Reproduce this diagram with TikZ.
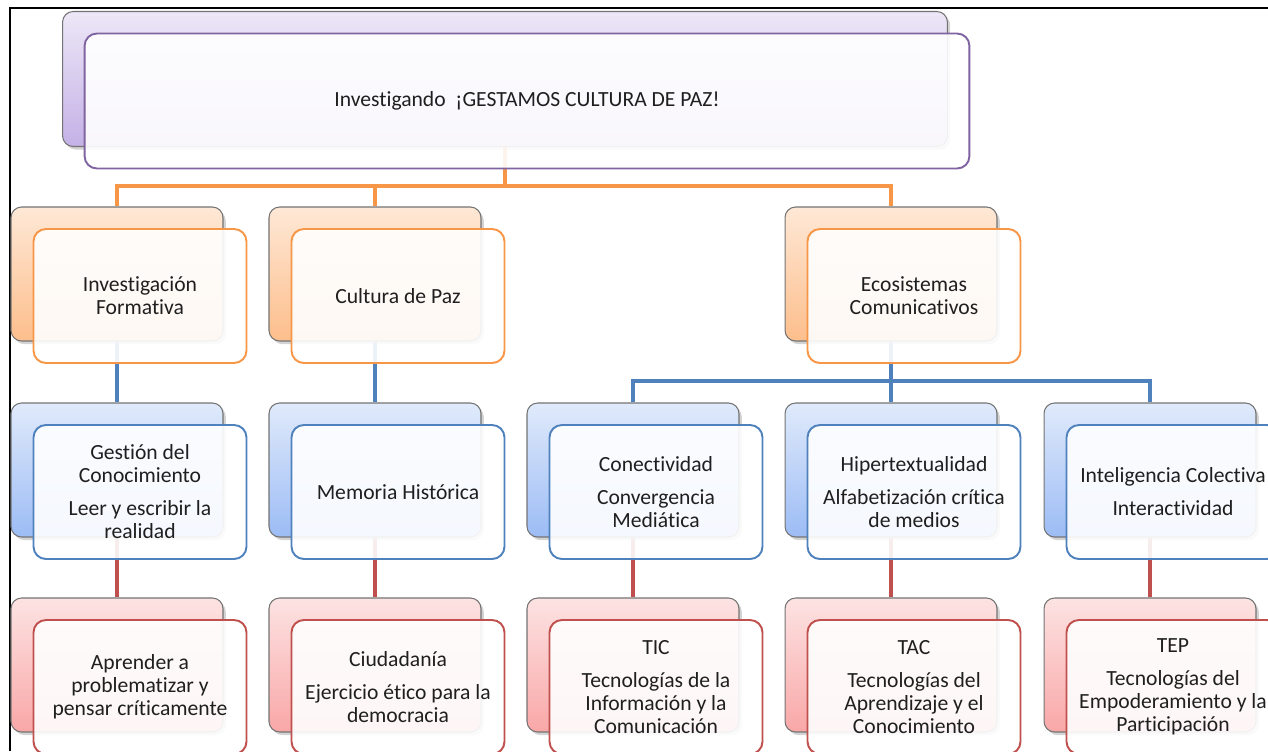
\documentclass[tikz,border=0pt]{standalone}
\usepackage{fontspec}
\setmainfont[Ligatures=NoCommon]{Carlito}
\usetikzlibrary{shadows,backgrounds}

\definecolor{moradoB}{HTML}{8064A2}
\definecolor{naranjaB}{HTML}{F79646}
\definecolor{azulB}{HTML}{4F81BD}
\definecolor{rojoB}{HTML}{C0504D}

\begin{document}
\begin{tikzpicture}[x=0.02cm, y=-0.02cm,
	fondo/.style={rounded corners=6pt, draw=black!55, line width=0.6pt, minimum width=4.24cm, minimum height=2.68cm,
		drop shadow={shadow xshift=1.6pt, shadow yshift=-1.8pt, opacity=0.35}},
	frente/.style={rounded corners=7pt, draw, line width=1.1pt, fill=white, fill opacity=0.9, text opacity=1,
		minimum width=4.26cm, minimum height=2.68cm, align=center, text=black!88,
		font=\fontsize{12.3}{13.1}\selectfont},
	morado/.style={top color={rgb,255:red,237;green,231;blue,247}, bottom color={rgb,255:red,196;green,177;blue,230}},
	naranja/.style={top color={rgb,255:red,254;green,232;blue,214}, bottom color={rgb,255:red,253;green,190;blue,140}},
	azul/.style={top color={rgb,255:red,224;green,234;blue,251}, bottom color={rgb,255:red,156;green,188;blue,245}},
	rojo/.style={top color={rgb,255:red,253;green,227;blue,227}, bottom color={rgb,255:red,249;green,167;blue,167}},
	linea/.style={line width=2.3pt}]

			\useasboundingbox (0,0) rectangle (1268,751);

			% marco
			\draw [line width=1.3pt] (10,751) -- (10,8) -- (1268,8);

			% raiz
			\node[fondo, morado, minimum width=17.7cm, minimum height=2.7cm] (raizB) at (505,79) {};
			\node[frente, draw=moradoB, minimum width=17.7cm, minimum height=2.7cm] (raiz) at (527,101) {Investigando~ ¡GESTAMOS CULTURA DE PAZ!};

			% primer nivel
			\node[fondo, naranja] (invB) at (117,274) {};
			\node[frente, draw=naranjaB] (inv) at (140,296) {Investigación\\Formativa};

			\node[fondo, naranja] (pazB) at (375,274) {};
			\node[frente, draw=naranjaB] (paz) at (398,296) {Cultura de Paz};

			\node[fondo, naranja] (ecoB) at (891,274) {};
			\node[frente, draw=naranjaB] (eco) at (914,296) {Ecosistemas\\Comunicativos};

			% segundo nivel
			\node[fondo, azul] (gesB) at (117,470) {};
			\node[frente, draw=azulB] (ges) at (140,492) {Gestión del\\Conocimiento\\[5.7pt]Leer y escribir la\\realidad};

			\node[fondo, azul] (memB) at (375,470) {};
			\node[frente, draw=azulB] (mem) at (398,492) {Memoria Histórica};

			\node[fondo, azul] (conB) at (633,470) {};
			\node[frente, draw=azulB] (con) at (656,492) {Conectividad\\[5.7pt]Convergencia\\Mediática};

			\node[fondo, azul] (hipB) at (891,470) {};
			\node[frente, draw=azulB] (hip) at (914,492) {Hipertextualidad\\[5.7pt]Alfabetización crítica\\de medios};

			\node[fondo, azul] (intB) at (1150,470) {};
			\node[frente, draw=azulB] (int) at (1173,492) {Inteligencia Colectiva\\[5.7pt]Interactividad};

			% tercer nivel
			\node[fondo, rojo] (aprB) at (117,665) {};
			\node[frente, draw=rojoB] (apr) at (140,687) {Aprender a\\problematizar y\\pensar críticamente};

			\node[fondo, rojo] (ciuB) at (375,665) {};
			\node[frente, draw=rojoB] (ciu) at (398,687) {Ciudadanía\\[5.7pt]Ejercicio ético para la\\democracia};

			\node[fondo, rojo] (ticB) at (633,665) {};
			\node[frente, draw=rojoB] (tic) at (656,687) {TIC\\[5.7pt]Tecnologías de la\\Información y la\\Comunicación};

			\node[fondo, rojo] (tacB) at (891,665) {};
			\node[frente, draw=rojoB] (tac) at (914,687) {TAC\\[5.7pt]Tecnologías del\\Aprendizaje y el\\Conocimiento};

			\node[fondo, rojo] (tepB) at (1150,665) {};
			\node[frente, draw=rojoB] (tep) at (1173,687) {TEP\\[5.7pt]Tecnologías del\\Empoderamiento y la\\Participación};

			% conectores
			\begin{pgfonlayer}{background}
				\coordinate (j1) at (505,186);
				\coordinate (j2) at (891,381);

				\draw [linea, naranjaB] (raizB.south) -- (j1);
				\draw [linea, naranjaB] (j1) -| (invB.north);
				\draw [linea, naranjaB] (j1) -| (pazB.north);
				\draw [linea, naranjaB] (j1) -| (ecoB.north);

				\draw [linea, azulB] (invB.south) -- (gesB.north);
				\draw [linea, azulB] (pazB.south) -- (memB.north);
				\draw [linea, azulB] (ecoB.south) -- (j2);
				\draw [linea, azulB] (j2) -| (conB.north);
				\draw [linea, azulB] (j2) -- (hipB.north);
				\draw [linea, azulB] (j2) -| (intB.north);

				\draw [linea, rojoB] (gesB.south) -- (aprB.north);
				\draw [linea, rojoB] (memB.south) -- (ciuB.north);
				\draw [linea, rojoB] (conB.south) -- (ticB.north);
				\draw [linea, rojoB] (hipB.south) -- (tacB.north);
				\draw [linea, rojoB] (intB.south) -- (tepB.north);
			\end{pgfonlayer}

	\end{tikzpicture}
\end{document}
